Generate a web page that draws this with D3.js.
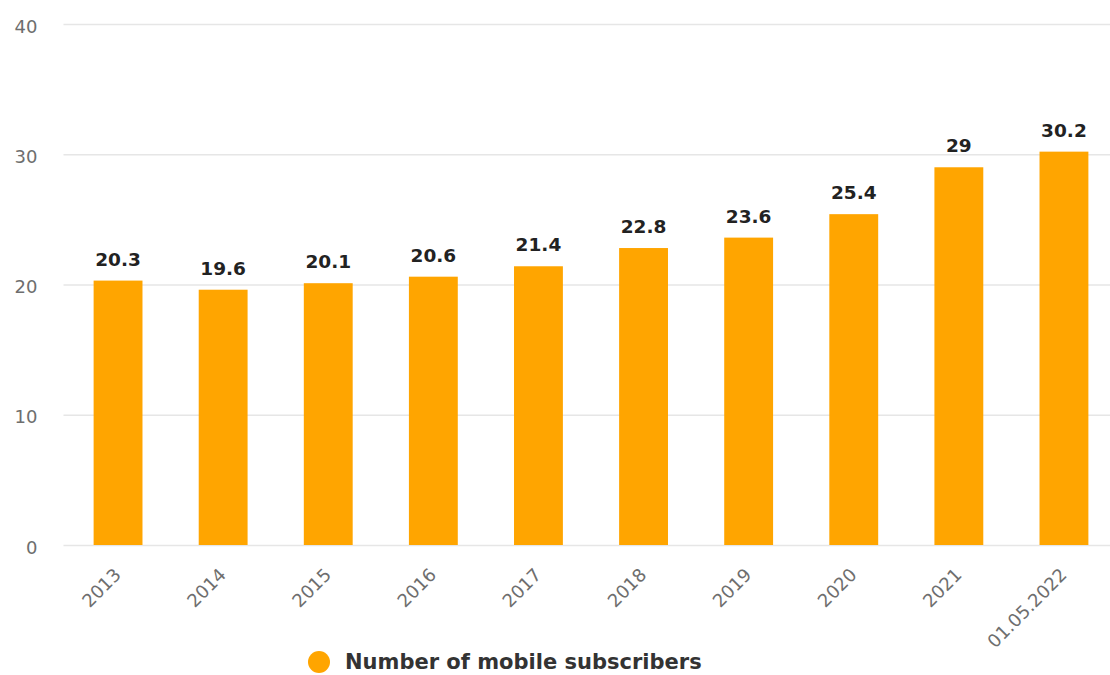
<!DOCTYPE html>
<html>
<head>
<meta charset="utf-8">
<script src="https://cdn.jsdelivr.net/npm/d3@7"></script>
<style>
  html, body { margin: 0; padding: 0; background: #ffffff; }
  svg { display: block; }
</style>
</head>
<body>
<svg id="chart" width="1110" height="675"></svg>
<script>
// Mobile subscribers by year (millions)
const categories = ["2013", "2014", "2015", "2016", "2017", "2018", "2019", "2020", "2021", "01.05.2022"];
const subscribers = [20.3, 19.6, 20.1, 20.6, 21.4, 22.8, 23.6, 25.4, 29, 30.2];
const yTicks = [0, 10, 20, 30, 40];
const seriesName = "Number of mobile subscribers";

const W = 1110, H = 675;
const plot = { left: 65.5, right: 1116.5, top: 24, bottom: 545 };
const barColor = "#FFA500";
const font = "'DejaVu Sans', Verdana, sans-serif";

const svg = d3.select("#chart");

const x = d3.scaleBand()
  .domain(categories)
  .range([plot.left, plot.right])
  .paddingInner(0.535)
  .paddingOuter(0.2675);

const y = d3.scaleLinear()
  .domain([0, 40])
  .range([plot.bottom, plot.top]);

// Horizontal gridlines with value labels on the left
const yAxis = svg.append("g")
  .attr("transform", `translate(${plot.left - 2},0)`)
  .call(d3.axisLeft(y).tickValues(yTicks).tickSize(-(W - plot.left + 2)).tickPadding(26));
yAxis.select(".domain").remove();
yAxis.selectAll(".tick line")
  .attr("stroke", "#e6e6e6")
  .attr("stroke-width", 1.3);
yAxis.selectAll(".tick text")
  .attr("fill", "#6e6e6e")
  .attr("font-family", font)
  .attr("font-size", 18)
  .attr("dy", "0.45em");

// Bars
svg.append("g")
  .selectAll("rect")
  .data(categories)
  .join("rect")
  .attr("x", d => x(d))
  .attr("width", x.bandwidth())
  .attr("y", (d, i) => y(subscribers[i]))
  .attr("height", (d, i) => y(0) - y(subscribers[i]))
  .attr("fill", barColor);

// Value labels above each bar
svg.append("g")
  .selectAll("text")
  .data(categories)
  .join("text")
  .attr("x", d => x(d) + x.bandwidth() / 2)
  .attr("y", (d, i) => y(subscribers[i]) - 15)
  .attr("text-anchor", "middle")
  .attr("font-family", font)
  .attr("font-weight", "bold")
  .attr("font-size", 18.5)
  .attr("fill", "#222222")
  .text((d, i) => d3.format("~g")(subscribers[i]));

// Category axis with rotated labels
const xAxis = svg.append("g")
  .attr("transform", `translate(0,${plot.bottom})`)
  .call(d3.axisBottom(x).tickSize(0).tickPadding(0));
xAxis.select(".domain").remove();
xAxis.selectAll(".tick text")
  .attr("fill", "#6e6e6e")
  .attr("font-family", font)
  .attr("font-size", 18)
  .attr("text-anchor", "end")
  .attr("dy", null)
  .attr("y", null)
  .attr("transform", "translate(4,31) rotate(-45)");

// Legend
const legend = svg.append("g").attr("transform", "translate(319,662)");
legend.append("circle")
  .attr("r", 11)
  .attr("fill", barColor);
legend.append("text")
  .attr("x", 26)
  .attr("y", 7)
  .attr("font-family", font)
  .attr("font-weight", "bold")
  .attr("font-size", 21)
  .attr("fill", "#333333")
  .text(seriesName);
</script>
</body>
</html>
